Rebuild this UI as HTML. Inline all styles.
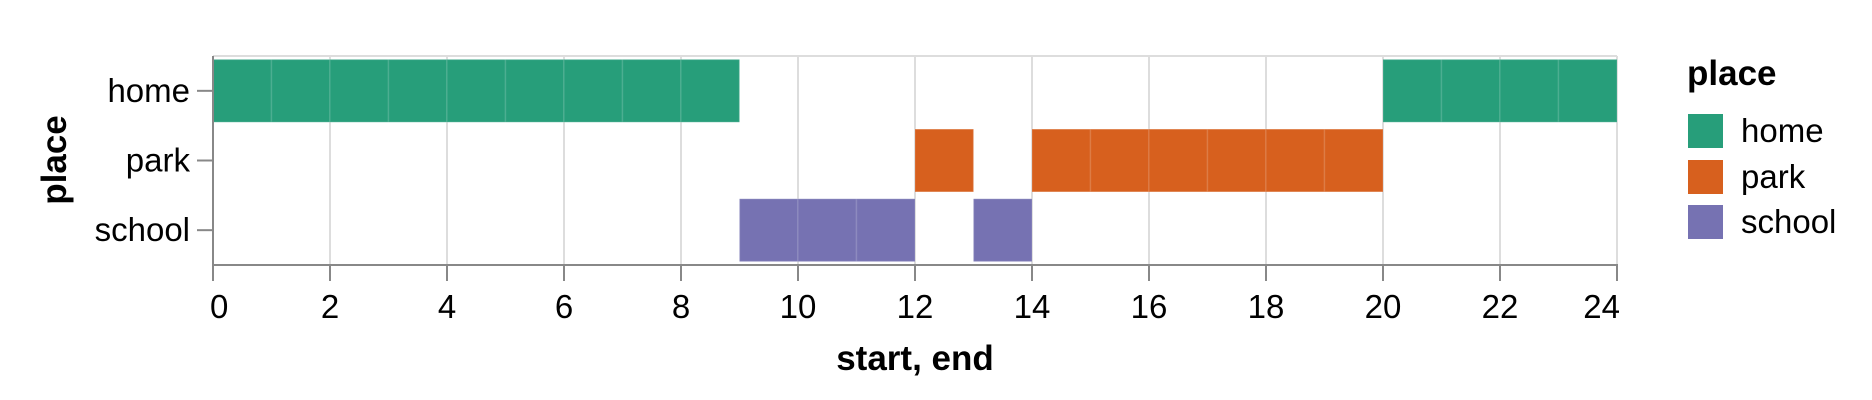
<!DOCTYPE html>
<html><head><meta charset="utf-8"><style>
html,body{margin:0;padding:0;background:#fff;}
svg{display:block;font-family:"Liberation Sans",Helvetica,Arial,sans-serif;}
</style></head><body>
<svg id="chart" width="1872" height="400"></svg>
<script>
const categories = ["home","park","school"];
const segPlace = ["home","home","park","park","school","school"];
const segStart = [0,20,12,14,9,13];
const segEnd = [9,24,13,20,12,14];
const xTicks = [0,2,4,6,8,10,12,14,16,18,20,22,24];
const colors = {home:"#279e7a",park:"#d7601e",school:"#7672b2"};

const NS="http://www.w3.org/2000/svg";
const svg=document.getElementById('chart');
const X0=213,X1=1617,Y0=56,Y1=265;
const xs=v=>X0+(v-0)/(24-0)*(X1-X0);
const step=(Y1-Y0)/categories.length;
const ys=c=>Y0+categories.indexOf(c)*step;
function mk(t,a,p){const e=document.createElementNS(NS,t);for(const k in a)e.setAttribute(k,a[k]);(p||svg).appendChild(e);return e;}

// grid
xTicks.forEach(v=>{
  const g=mk('line',{x1:xs(v),x2:xs(v),y1:Y0,y2:Y1,stroke:'#ddd','stroke-width':2});
  
  
});
const topGrid=mk('line',{x1:X0,x2:X1,y1:Y0,y2:Y0,stroke:'#ddd','stroke-width':2});



// bars (hour segments)
segPlace.forEach((p,i)=>{
  for(let h=segStart[i];h<segEnd[i];h++){
    const r=mk('rect',{x:xs(h),y:ys(p)+step*0.05,width:xs(h+1)-xs(h),height:step*0.9,fill:colors[p],stroke:'#ffffff','stroke-opacity':0.12,'stroke-width':1.5});
    
    
  }
});

// axes
const xa=mk('line',{x1:X0-1,x2:X1+1,y1:Y1,y2:Y1,stroke:'#888','stroke-width':2});


const ya=mk('line',{x1:X0,x2:X0,y1:Y0,y2:Y1,stroke:'#888','stroke-width':2});


xTicks.forEach(v=>{
  const t=mk('line',{x1:xs(v),x2:xs(v),y1:Y1,y2:Y1+16,stroke:'#888','stroke-width':2});
  
  
  const anchor=v===0?'start':(v===24?'end':'middle');
  const l=mk('text',{x:xs(v)+(v===0?-3:0)+(v===24?3:0),y:318,'text-anchor':anchor,'font-size':33,fill:'#000'});
  l.textContent=v;
  
  
});
categories.forEach(c=>{
  const cy=ys(c)+step/2;
  const t=mk('line',{x1:X0-16,x2:X0,y1:cy,y2:cy,stroke:'#888','stroke-width':2});
  
  
  const l=mk('text',{x:190,y:cy+11,'text-anchor':'end','font-size':33,fill:'#000'});
  l.textContent=c;
  
  
});
const xt=mk('text',{x:(X0+X1)/2,y:370,'text-anchor':'middle','font-size':35,'font-weight':'bold',fill:'#000'});
xt.textContent='start, end';


const yt=mk('text',{x:0,y:0,'text-anchor':'middle','font-size':35,'font-weight':'bold',fill:'#000',transform:'translate(66,160) rotate(-90)'});
yt.textContent='place';



// legend
const lt=mk('text',{x:1687,y:85,'font-size':35,'font-weight':'bold',fill:'#000'});
lt.textContent='place';


const ly=[131,177,222];
categories.forEach((c,i)=>{
  const s=mk('rect',{x:1688,y:ly[i]-17,width:35,height:34,fill:colors[c]});
  
  
  const l=mk('text',{x:1741,y:ly[i]+11,'font-size':33,fill:'#000'});
  l.textContent=c;
  
  
});
</script>
</body></html>
